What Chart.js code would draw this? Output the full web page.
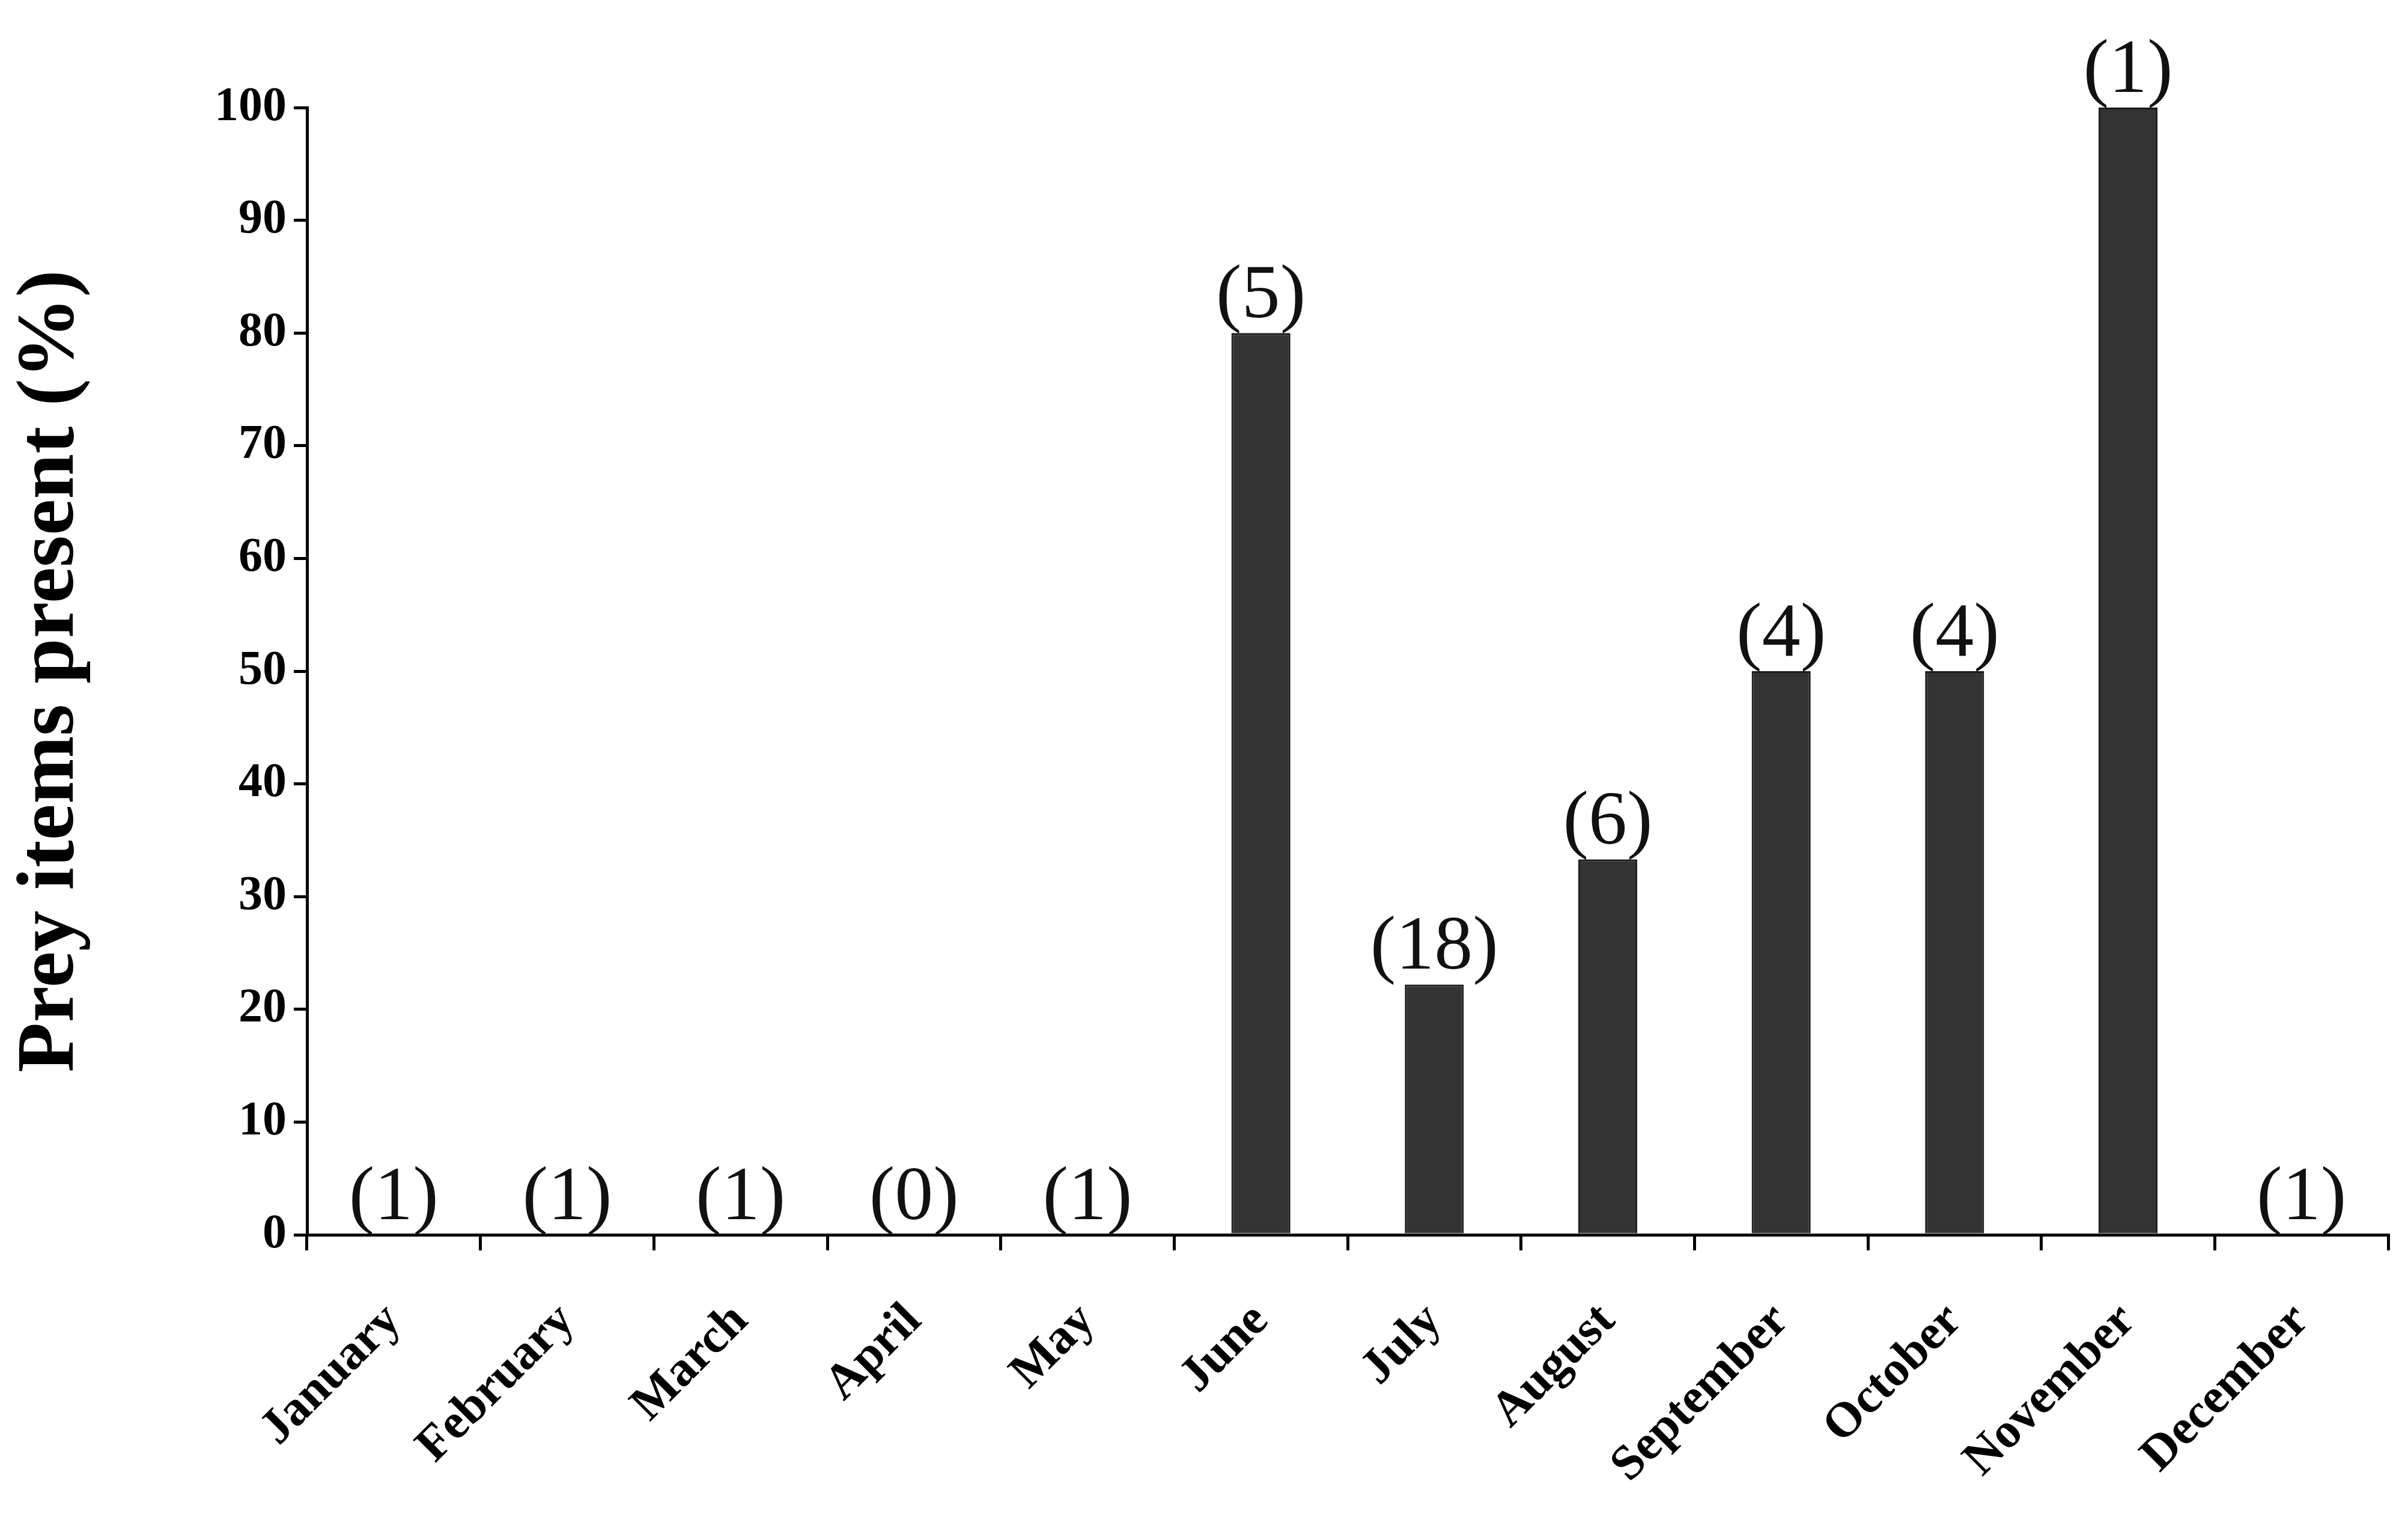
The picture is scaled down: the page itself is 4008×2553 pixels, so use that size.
<!DOCTYPE html>
<html>
<head>
<meta charset="utf-8">
<script src="https://cdn.jsdelivr.net/npm/chart.js@4/dist/chart.umd.min.js"></script>
<style>
  html, body { margin: 0; padding: 0; background: #fff; }
  #wrap { width: 4008px; height: 2553px; }
</style>
</head>
<body>
<div id="wrap"><canvas id="chart" width="4008" height="2553"></canvas></div>
<script>
const months = ['January', 'February', 'March', 'April', 'May', 'June', 'July', 'August', 'September', 'October', 'November', 'December'];
const preyPercent = [0, 0, 0, 0, 0, 80, 22.2, 33.3, 50, 50, 100, 0];
const sampleCounts = ['(1)', '(1)', '(1)', '(0)', '(1)', '(5)', '(18)', '(6)', '(4)', '(4)', '(1)', '(1)'];

const serif = "'Liberation Serif', 'DejaVu Serif', serif";

// draws the sample size in brackets above each bar
const countLabels = {
  id: 'countLabels',
  afterDatasetsDraw(chart) {
    const { ctx } = chart;
    const meta = chart.getDatasetMeta(0);
    ctx.save();
    ctx.font = `128px ${serif}`;
    ctx.fillStyle = '#111';
    ctx.textAlign = 'center';
    ctx.textBaseline = 'bottom';
    meta.data.forEach((bar, i) => {
      ctx.fillText(sampleCounts[i], bar.x, bar.y + 4);
    });
    ctx.restore();
  }
};

new Chart(document.getElementById('chart'), {
  type: 'bar',
  data: {
    labels: months,
    datasets: [{
      data: preyPercent,
      backgroundColor: '#333333',
      borderColor: '#1a1a1a',
      borderWidth: 3,
      categoryPercentage: 1,
      barPercentage: 0.34
    }]
  },
  options: {
    responsive: false,
    animation: false,
    layout: { padding: { top: 179, right: 33 } },
    plugins: { legend: { display: false }, tooltip: { enabled: false } },
    scales: {
      x: {
        offset: true,
        afterFit: s => { s.height = 498; },
        grid: { display: true, offset: true, drawOnChartArea: false, color: '#000', lineWidth: 5, tickLength: 26 },
        border: { color: '#000', width: 5 },
        ticks: {
          color: '#000',
          font: { family: serif, size: 82, weight: 'bold' },
          maxRotation: 45, minRotation: 45,
          padding: 70
        }
      },
      y: {
        min: 0, max: 100,
        afterFit: s => { s.width = 511; },
        grid: { drawOnChartArea: false, color: '#000', lineWidth: 5, tickLength: 22 },
        border: { color: '#000', width: 5 },
        ticks: {
          stepSize: 10,
          color: '#000',
          font: { family: serif, size: 80, weight: 'bold' },
          padding: 12
        },
        title: {
          display: true,
          text: 'Prey items present (%)',
          color: '#000',
          font: { family: serif, size: 136, weight: 'bold' },
          padding: { bottom: 30 }
        }
      }
    }
  },
  plugins: [countLabels]
});
</script>
</body>
</html>
